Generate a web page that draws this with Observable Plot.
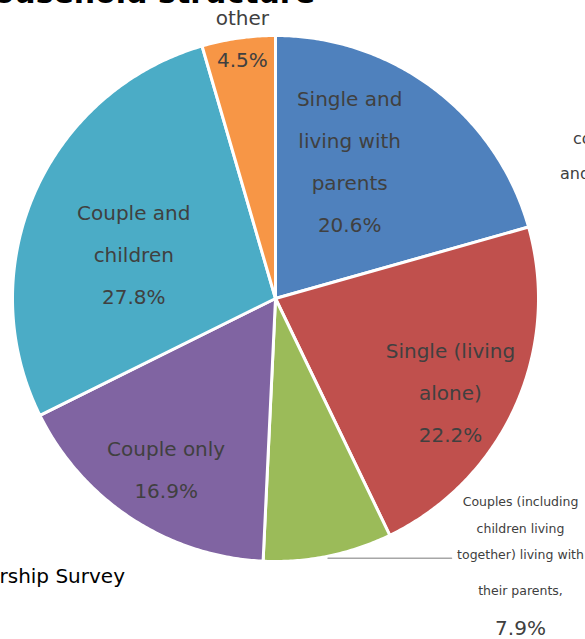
<!DOCTYPE html>
<html><head><meta charset="utf-8">
<script src="https://cdn.jsdelivr.net/npm/d3@7"></script>
<script src="https://cdn.jsdelivr.net/npm/@observablehq/plot@0.6"></script>
<style>
body{margin:0;background:#fff;overflow:hidden}
#wrap{position:relative;width:585px;height:639px;overflow:hidden;font-family:"DejaVu Sans",sans-serif}
#wrap svg{position:absolute;left:0;top:0}
.abs{position:absolute;white-space:nowrap;line-height:1}
</style></head><body>
<div id="wrap">
  <div class="abs" id="title" style="right:270px;top:-22px;font-size:30px;font-weight:bold;color:#000">Household structure</div>
  <div class="abs" style="right:460px;top:566px;font-size:20px;color:#000">Source: Marriage and Partnership Survey</div>
  <div class="abs" style="left:573px;top:131px;font-size:16px;color:#404040">couples</div>
  <div class="abs" style="left:560px;top:166px;font-size:16px;color:#404040">and</div>
</div>
<script>
// ---- data ----
const categories = [
  "Single and living with parents",
  "Single (living alone)",
  "Couples (including children living together) living with their parents",
  "Couple only",
  "Couple and children",
  "other"
];
const values = [20.6, 22.2, 7.9, 16.9, 27.8, 4.5];
const labelLines = [
  "Single and\nliving with\nparents",
  "Single (living\nalone)",
  "Couples (including\nchildren living\ntogether) living with",
  "Couple only",
  "Couple and\nchildren",
  "other"
];
const colors = ["#4F81BD", "#C0504D", "#9BBB59", "#8064A2", "#4BACC6", "#F79646"];

// ---- layout (not data) ----
const CX = 275, CY = 298, R = 263;
const labelAngle = [28.6, 118.5, null, 212.4, 286.8, 352.7];   // degrees clockwise from top
const labelRadius = [0.589, 0.757, null, 0.776, 0.563, 0.992]; // fraction of radius

const proj = d3.geoIdentity().reflectY(true).scale(R).translate([CX, CY]);
const polar = (deg, r) => [r * Math.sin(deg * Math.PI / 180), r * Math.cos(deg * Math.PI / 180)];
const fmt = v => v.toFixed(1) + "%";

const total = d3.sum(values);
let acc = 0;
const slices = categories.map((name, i) => {
  const a0 = acc / total * 360; acc += values[i]; const a1 = acc / total * 360;
  return {name, value: values[i], a0, a1, i};
});

const features = slices.map(s => {
  const n = Math.max(2, Math.ceil((s.a1 - s.a0) / 0.5));
  const ring = [[0, 0]];
  for (let k = 0; k <= n; k++) ring.push(polar(s.a0 + (s.a1 - s.a0) * k / n, 1));
  ring.push([0, 0]);
  return {type: "Feature", properties: {name: s.name}, geometry: {type: "Polygon", coordinates: [ring]}};
});

const insideLabels = slices.filter(s => labelAngle[s.i] != null).map(s => {
  const [x, y] = polar(labelAngle[s.i], labelRadius[s.i]);
  return {x, y, text: labelLines[s.i] + "\n" + fmt(s.value)};
});

// outside label for the small green slice, with a leader line
const g = slices[2];
const leaderStart = polar(g.a0 + (g.a1 - g.a0) * 0.5, 1.0);
const leaderEnd = proj.invert([451, proj(leaderStart)[1] + 2]);
const leaderStart2 = proj.invert([proj(leaderStart)[0], proj(leaderStart)[1] + 2]);
const outA = proj.invert([520, 524]);
const outB = proj.invert([520, 590]);
const outC = proj.invert([520, 628]);

const chart = Plot.plot({
  width: 585, height: 639, margin: 0,
  projection: proj,
  color: {domain: categories, range: colors},
  style: {fontFamily: "DejaVu Sans, sans-serif", background: "transparent"},
  marks: [
    Plot.geo(features, {fill: d => d.properties.name, stroke: "white", strokeWidth: 3}),
    Plot.line([leaderStart2, leaderEnd], {stroke: "#a6a6a6", strokeWidth: 1.5}),
    Plot.text(insideLabels, {x: "x", y: "y", text: "text", fontSize: 20, lineHeight: 2.1, dy: -7, fill: "#404040"}),
    Plot.text([{x: outA[0], y: outA[1], text: labelLines[2]}], {x: "x", y: "y", text: "text", fontSize: 12.5, lineHeight: 2.12, fill: "#404040"}),
    Plot.text([{x: outB[0], y: outB[1], text: "their parents,"}], {x: "x", y: "y", text: "text", fontSize: 12.5, fill: "#404040"}),
    Plot.text([{x: outC[0], y: outC[1], text: fmt(g.value)}], {x: "x", y: "y", text: "text", fontSize: 20, fill: "#404040"})
  ]
});
document.getElementById("wrap").prepend(chart);
</script>
</body></html>
